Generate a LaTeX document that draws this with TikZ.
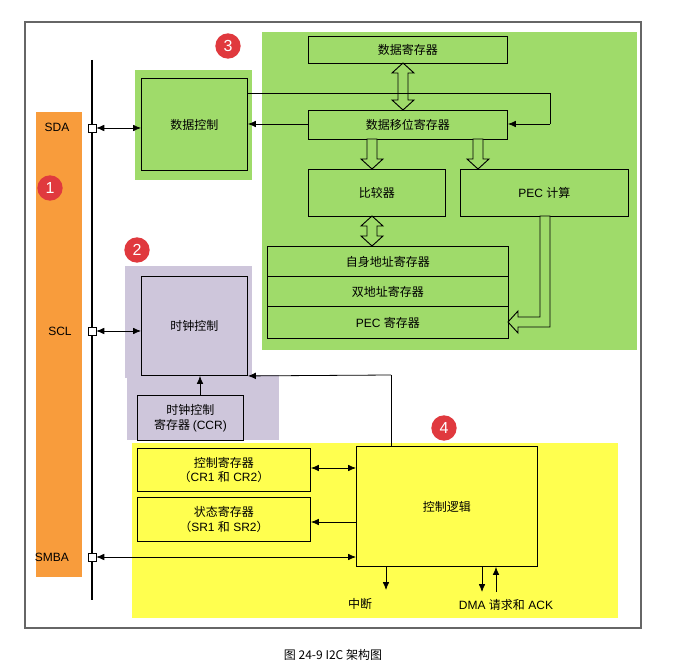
\documentclass[tikz,border=0pt]{standalone}
\usepackage{fontspec}
\setmainfont{Liberation Sans}
\newfontfamily\cjk{Noto Sans CJK SC}
\usetikzlibrary{arrows.meta}
\definecolor{gbg}{HTML}{9FDB6A}
\definecolor{pbg}{HTML}{CEC6DB}
\definecolor{ybg}{HTML}{FFFF4F}
\definecolor{obg}{HTML}{F89C3C}
\definecolor{badge}{HTML}{E0393E}
\newcommand\mydown[3]{% x, ytop, ybot : hollow arrow pointing down
 \draw[fill=gbg,line width=0.7pt] (#1-5,#2) -- (#1+5,#2) -- (#1+5,#3-10) -- (#1+11,#3-10) -- (#1,#3) -- (#1-11,#3-10) -- (#1-5,#3-10) -- cycle;}
\newcommand\myboth[3]{% x, ytop, ybot : hollow double arrow
 \draw[fill=gbg,line width=0.7pt] (#1,#2) -- (#1+11,#2+10) -- (#1+5,#2+10) -- (#1+5,#3-10) -- (#1+11,#3-10) -- (#1,#3) -- (#1-11,#3-10) -- (#1-5,#3-10) -- (#1-5,#2+10) -- (#1-11,#2+10) -- cycle;}
\begin{document}
\begin{tikzpicture}[x=0.75pt,y=-0.75pt,
 box/.style={draw,line width=0.7pt,anchor=north west,inner sep=0pt,font=\cjk\small},
 sz/.style 2 args={minimum width=#1*0.75pt,minimum height=#2*0.75pt},
 lab/.style={font=\small,inner sep=1pt},
 bdg/.style={circle,fill=badge,text=white,minimum size=19pt,inner sep=0pt,font=\large},
 arr/.style={-{Latex[length=6pt,width=5pt]},line width=0.6pt},
 darr/.style={{Latex[length=6pt,width=5pt]}-{Latex[length=6pt,width=5pt]},line width=0.6pt},
 sq/.style={draw,fill=white,minimum size=6pt,inner sep=0pt}]
\useasboundingbox (0,0) rectangle (679,670);
\draw[gray!80!black,line width=0.8pt] (25,22) rectangle (641,628);
% backgrounds
\fill[obg] (36,112) rectangle (82,577);
\fill[gbg] (135,70) rectangle (252,180);
\fill[gbg] (262,32) rectangle (637,350);
\fill[pbg] (125,266) rectangle (252,378);
\fill[pbg] (127,375) rectangle (279,440);
\fill[ybg] (132,443) rectangle (618,618);
% bus
\draw[line width=1pt] (92,60) -- (92,600);
\node[sq] (sda) at (92,128) {};
\node[sq] (scl) at (92,331) {};
\node[sq] (smba) at (92,557) {};
\node[lab] at (57,127) {SDA};
\node[lab] at (60,331) {SCL};
\node[lab] at (52,557) {SMBA};
\node[bdg] (b1) at (50,188) {1};
\node[bdg] (b2) at (137,250) {2};
\node[bdg] (b3) at (228,46) {3};
\node[bdg] (b4) at (444,428) {4};
% boxes
\node[box,sz={106}{92}] (dc) at (141,78) {数据控制};
\node[box,sz={199}{27}] (dr) at (308,36) {数据寄存器};
\node[box,sz={199}{29}] (dsr) at (308,110) {数据移位寄存器};
\node[box,sz={137}{47}] (cmp) at (308,169) {比较器};
\node[box,sz={168}{47}] (pec) at (460,169) {\rmfamily PEC {\cjk 计算}};
\node[box,sz={241}{30}] (own) at (267,246) {自身地址寄存器};
\node[box,sz={241}{30}] (dual) at (267,276) {双地址寄存器};
\node[box,sz={241}{32}] (pecr) at (267,306) {\rmfamily PEC {\cjk 寄存器}};
\node[box,sz={106}{99}] (clk) at (141,276) {时钟控制};
\node[box,sz={106}{45},align=center] (ccr) at (137,395) {时钟控制\\寄存器 \rmfamily(CCR)};
\node[box,sz={173}{43},align=center] (cr) at (137,448) {控制寄存器\\（\rmfamily CR1 {\cjk 和} CR2{\cjk ）}};
\node[box,sz={173}{44},align=center] (sr) at (137,497) {状态寄存器\\（\rmfamily SR1 {\cjk 和} SR2{\cjk ）}};
\node[box,sz={181}{120}] (cl) at (356,446) {控制逻辑};
% hollow arrows
\myboth{403}{63}{110}
\mydown{372}{139}{169}
\mydown{478}{139}{169}
\myboth{372}{216}{246}
\draw[fill=gbg,line width=0.7pt] (540,216) -- (550,216) -- (550,327) -- (518,327) -- (518,333) -- (508,322) -- (518,311) -- (518,317) -- (540,317) -- cycle;
% connectors
\draw[darr] (sda.east) -- (dc.west |- sda);
\draw[darr] (scl.east) -- (clk.west |- scl);
\draw[darr] (smba.east) -- (cl.west |- smba);
\draw[line width=0.6pt] (dc.east |- 0,93) -- (550,93) -- (550,124);
\draw[arr] (550,124) -- (dsr.east |- 0,124);
\draw[arr] (dsr.west |- 0,124) -- (dc.east |- 0,124);
\draw[arr] (ccr.north -| 200,0) -- (clk.south -| 200,0);
\draw[line width=0.6pt] (cl.north -| 391,0) -- (391,375);
\draw[arr] (391,375) -- (clk.south east);
\draw[darr] (cr.east |- 0,468) -- (cl.west |- 0,468);
\draw[arr] (cl.west |- 0,522) -- (sr.east |- 0,522);
\coordinate (irq) at (386,590);
\coordinate (dmao) at (482,592);
\coordinate (dmai) at (496,592);
\draw[arr] (cl.south -| irq) -- (irq);
\draw[arr] (cl.south -| dmao) -- (dmao);
\draw[arr] (dmai) -- (cl.south -| dmai);
\node[font=\cjk\small] at (360,604) {中断};
\node[font=\small] at (506,605) {DMA {\cjk 请求和} ACK};
\node[font=\cjk\small] at (333,655) {图 24-9 I2C 架构图};
\end{tikzpicture}
\end{document}
